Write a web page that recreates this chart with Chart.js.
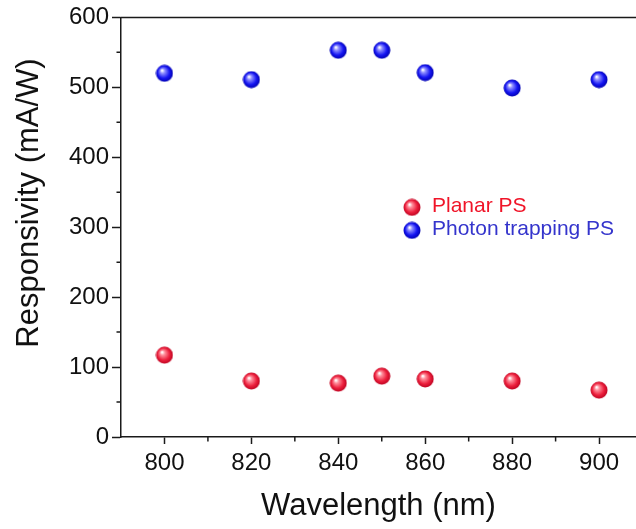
<!DOCTYPE html>
<html>
<head>
<meta charset="utf-8">
<script src="https://cdn.jsdelivr.net/npm/chart.js@4/dist/chart.umd.min.js"></script>
<style>
  html, body { margin: 0; padding: 0; background: #fff; }
  #wrap { width: 636px; height: 529px; }
</style>
</head>
<body>
<div id="wrap"><canvas id="chart-responsivity"></canvas></div>
<script>
// Data block
var wavelengths = [800, 820, 840, 850, 860, 880, 900];
var planarPS = [117, 80, 77, 87, 83, 80, 67];
var photonTrappingPS = [520, 511, 553, 553, 521, 499, 511];
var xTickValues = [800, 820, 840, 860, 880, 900];
var xMinorValues = [810, 830, 850, 870, 890];
var yTickValues = [0, 100, 200, 300, 400, 500, 600];
var yMinorValues = [50, 150, 250, 350, 450, 550];
var seriesNames = ['Planar PS', 'Photon trapping PS'];

var FONT = "'Liberation Sans', Arial, sans-serif";
var AXIS_COLOR = '#1a1a1a';

// shaded ball marker
function makeBall(light, base, dark) {
  var c = document.createElement('canvas');
  c.width = 18; c.height = 18;
  var g = c.getContext('2d');
  var grad = g.createRadialGradient(6.5, 6, 0.5, 9, 9, 9);
  grad.addColorStop(0, '#ffffff');
  grad.addColorStop(0.22, light);
  grad.addColorStop(0.65, base);
  grad.addColorStop(1, dark);
  g.fillStyle = grad;
  g.beginPath();
  g.arc(9, 9, 8.5, 0, Math.PI * 2);
  g.fill();
  return c;
}
var redBall = makeBall('#ff8f9c', '#ec1f3c', '#b8001e');
var blueBall = makeBall('#8f8fff', '#1414f2', '#0000a8');

function toPoints(ys) {
  return wavelengths.map((x, i) => ({ x: x, y: ys[i] }));
}

// Extras: top frame, minor ticks, y title, in-plot legend
var extrasPlugin = {
  id: 'extras',
  afterDraw(chart) {
    var ctx = chart.ctx, a = chart.chartArea;
    var xs = chart.scales.x, ys = chart.scales.y;
    ctx.save();
    ctx.strokeStyle = AXIS_COLOR;
    ctx.lineWidth = 1.5;
    ctx.beginPath();
    ctx.moveTo(a.left - 0.75, a.top);
    ctx.lineTo(a.right, a.top);
    xMinorValues.forEach(v => {
      var px = xs.getPixelForValue(v);
      ctx.moveTo(px, a.bottom);
      ctx.lineTo(px, a.bottom + 4.5);
    });
    yMinorValues.forEach(v => {
      var py = ys.getPixelForValue(v);
      ctx.moveTo(a.left, py);
      ctx.lineTo(a.left - 4.5, py);
    });
    ctx.stroke();

    // y axis title
    ctx.save();
    ctx.translate(29, 203);
    ctx.rotate(-Math.PI / 2);
    ctx.fillStyle = '#111';
    ctx.font = '31px ' + FONT;
    ctx.textAlign = 'center';
    ctx.textBaseline = 'middle';
    ctx.fillText('Responsivity (mA/W)', 0, 0);
    ctx.restore();

    // legend
    var lx = a.left + 291, ly = a.top + 190;
    ctx.font = '21px ' + FONT;
    ctx.textAlign = 'left';
    ctx.textBaseline = 'middle';
    ctx.drawImage(redBall, lx - 9, ly - 9);
    ctx.fillStyle = '#f01428';
    ctx.fillText(seriesNames[0], lx + 20, ly - 1);
    ctx.drawImage(blueBall, lx - 9, ly + 23 - 9);
    ctx.fillStyle = '#3434cc';
    ctx.fillText(seriesNames[1], lx + 20, ly + 22);
    ctx.restore();
  }
};

Chart.defaults.font.family = FONT;

var config = {
  type: 'scatter',
  data: {
    datasets: [
      { label: seriesNames[0], data: toPoints(planarPS), pointStyle: redBall },
      { label: seriesNames[1], data: toPoints(photonTrappingPS), pointStyle: blueBall }
    ]
  },
  options: {
    responsive: true,
    maintainAspectRatio: false,
    animation: false,
    layout: { autoPadding: false, padding: { top: 17, right: 0, bottom: 0, left: 0 } },
    scales: {
      x: {
        type: 'linear',
        min: 790,
        max: 908.5,
        afterBuildTicks: (s) => { s.ticks = xTickValues.map(v => ({ value: v })); },
        afterFit: (s) => { s.height = 92; s.paddingLeft = 0; s.paddingRight = 0; },
        grid: { drawOnChartArea: false, tickLength: 7, tickColor: AXIS_COLOR, tickWidth: 1.5 },
        border: { display: true, color: AXIS_COLOR, width: 1.5 },
        ticks: { color: '#111', font: { size: 24 }, padding: 5, maxRotation: 0 },
        title: {
          display: true,
          text: 'Wavelength (nm)',
          color: '#111',
          font: { size: 31 },
          padding: { top: 0, bottom: 4 }
        }
      },
      y: {
        min: 0,
        max: 600,
        afterBuildTicks: (s) => { s.ticks = yTickValues.map(v => ({ value: v })); },
        afterFit: (s) => { s.width = 121; },
        grid: { drawOnChartArea: false, tickLength: 9, tickColor: AXIS_COLOR, tickWidth: 1.5 },
        border: { display: true, color: AXIS_COLOR, width: 1.5 },
        ticks: { color: '#111', font: { size: 24 }, padding: 3 }
      }
    },
    plugins: {
      legend: { display: false },
      tooltip: { enabled: false }
    }
  },
  plugins: [extrasPlugin]
};

var responsivityChart = new Chart(document.getElementById('chart-responsivity'), config);
</script>
</body>
</html>
